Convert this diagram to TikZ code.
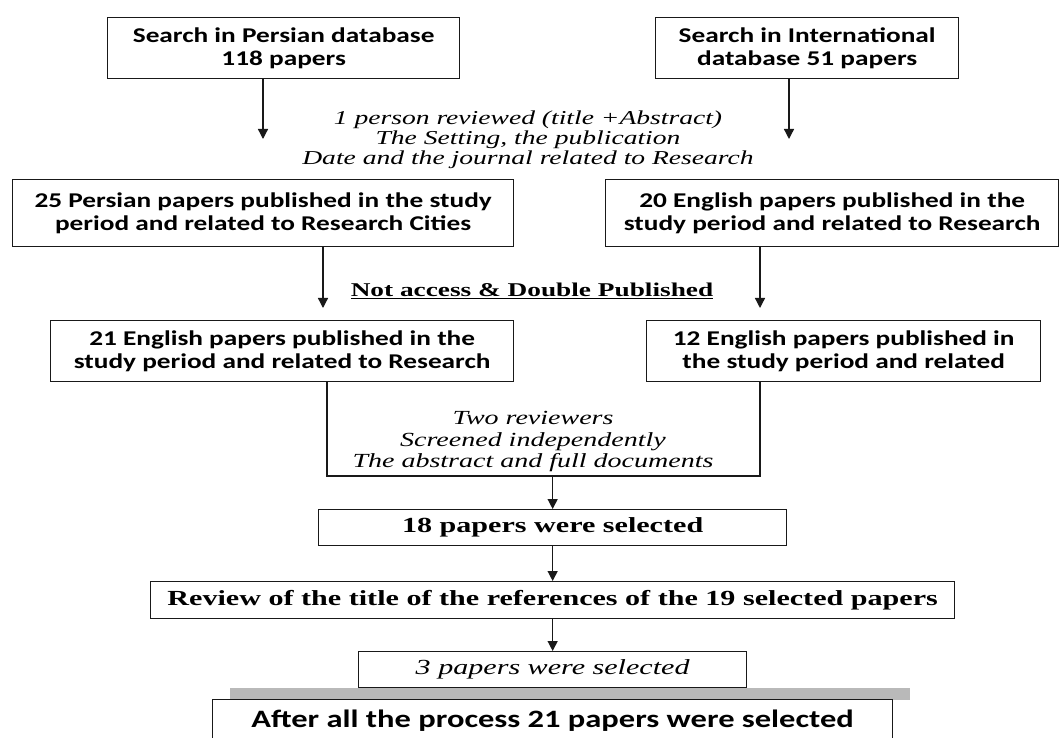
\documentclass[tikz,border=0pt]{standalone}
\usepackage{fontspec}
\setmainfont{Liberation Serif}
\newfontfamily\sfbox[FakeStretch=1.3]{Carlito}
\newfontfamily\srf[FakeStretch=1.4]{Liberation Serif}
\usetikzlibrary{arrows.meta}
\begin{document}
\begin{tikzpicture}[x=1pt,y=-1pt,
  box/.style={draw=black!90, line width=1.3pt, inner sep=0pt, align=center, anchor=north west, fill=white},
  arr/.style={draw=black!90, line width=1.3pt, -{Triangle[length=10pt,width=10pt]}},
  ln/.style={draw=black!90, line width=1.3pt},
  sansb/.style={font=\sfbox\bfseries\fontsize{21}{23.5}\selectfont},
  serifit/.style={font=\srf\itshape\fontsize{19.7}{20}\selectfont, align=center, inner sep=0pt},
  serifbf/.style={font=\srf\bfseries\fontsize{21.5}{23}\selectfont},
  serifitb/.style={font=\srf\itshape\fontsize{21.5}{23}\selectfont},
]
\path[use as bounding box, fill=white] (0,0) rectangle (1061,738);

% top boxes
\node[box, sansb, minimum width=352pt, minimum height=61pt] (A) at (107,17)
  {Search in Persian database\\118 papers};
\node[box, sansb, minimum width=303pt, minimum height=61pt] (B) at (655,17)
  {Search in International\\database 51 papers};
\coordinate (ta) at (263,139);
\coordinate (tb) at (789,139);
\draw[arr] (A.south -| ta) -- (ta);
\draw[arr] (B.south -| tb) -- (tb);

\node[serifit] (t1) at (528,140)
  {1 person reviewed (title +Abstract)\\The Setting, the publication\\Date and the journal related to Research};

% second row
\node[box, sansb, minimum width=501pt, minimum height=67pt] (C) at (12,179)
  {25 Persian papers published in the study\\period and related to Research Cities};
\node[box, sansb, minimum width=453pt, minimum height=67pt] (D) at (605,179)
  {20 English papers published in the\\study period and related to Research};
\coordinate (ca) at (323,308);
\coordinate (da) at (760,308);
\draw[arr] (C.south -| ca) -- (ca);
\draw[arr] (D.south -| da) -- (da);

\node[font=\srf\bfseries\fontsize{19.5}{21}\selectfont, inner sep=0pt] (na) at (532,291)
  {\underline{Not access \& Double Published}};

% third row
\node[box, sansb, minimum width=463pt, minimum height=61pt] (E) at (50,320)
  {21 English papers published in the\\study period and related to Research};
\node[box, sansb, minimum width=394pt, minimum height=61pt] (F) at (646,320)
  {12 English papers published in\\the study period and related};

\coordinate (eL) at (327,476);
\coordinate (fR) at (760,476);
\draw[ln] (E.south -| eL) -- (eL) -- (fR) -- (F.south -| fR);

\node[serifit, font=\srf\itshape\fontsize{20}{21.5}\selectfont] (t2) at (533,442)
  {Two reviewers\\Screened independently\\The abstract and full documents};

% lower chain
\node[box, serifbf, minimum width=468pt, minimum height=36pt] (G) at (318,509)
  {18 papers were selected};
\draw[arr] (G.north |- eL) -- (G.north);
\node[box, serifbf, minimum width=804pt, minimum height=37pt] (H) at (150,581)
  {Review of the title of the references of the 19 selected papers};
\draw[arr] (G.south) -- (H.north);
\node[box, serifitb, minimum width=388pt, minimum height=36pt] (I) at (358,651)
  {3 papers were selected};
\draw[arr] (H.south) -- (I.north);

% shadow bar and final box
\fill[gray!55] (230,688) rectangle (910,700);
\node[box, font=\sfbox\bfseries\fontsize{25}{27}\selectfont, minimum width=680pt, minimum height=50pt, text depth=0pt] (J) at (212,699)
  {\raisebox{12pt}{After all the process 21 papers were selected}};
\end{tikzpicture}
\end{document}
